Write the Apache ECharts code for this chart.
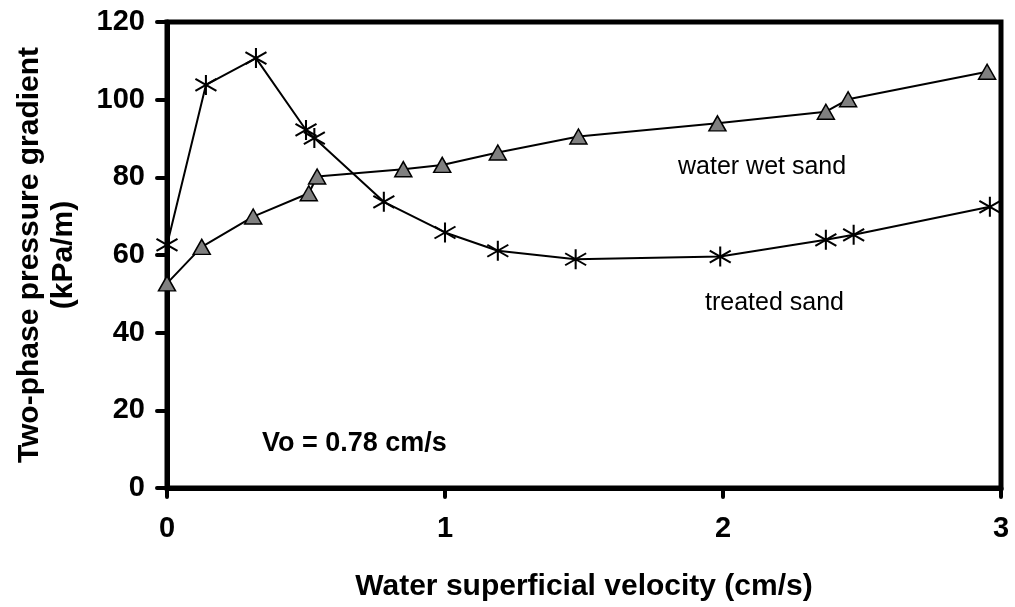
<!DOCTYPE html>
<html>
<head>
<meta charset="utf-8">
<script src="https://cdn.jsdelivr.net/npm/echarts@6/dist/echarts.min.js"></script>
<style>html,body{margin:0;padding:0;background:#fff}#c{width:1015px;height:607px}</style>
</head>
<body>
<div id="c"></div>
<script>
const treatedX = [0, 0.14, 0.32, 0.50, 0.53, 0.78, 1.00, 1.19, 1.47, 1.99, 2.37, 2.47, 2.96];
const treatedY = [62.6, 103.8, 110.7, 92.2, 90.1, 73.7, 65.8, 61.1, 58.9, 59.6, 63.9, 65.2, 72.4];
const wetX = [0, 0.125, 0.31, 0.51, 0.54, 0.85, 0.99, 1.19, 1.48, 1.98, 2.37, 2.45, 2.95];
const wetY = [52.7, 62.1, 69.9, 75.9, 80.2, 82.1, 83.2, 86.4, 90.5, 93.9, 96.9, 100.1, 107.2];
const xTicks = [0, 1, 2, 3];
const yTicks = [0, 20, 40, 60, 80, 100, 120];

const FF = '"Liberation Sans", Arial, sans-serif';
const chart = echarts.init(document.getElementById('c'), null, {renderer: 'canvas'});
chart.setOption({
  animation: false,
  backgroundColor: '#fff',
  grid: {left: 167, right: 14, top: 22, bottom: 119, show: true, borderColor: '#000', borderWidth: 5, backgroundColor: 'transparent'},
  xAxis: {
    type: 'value', min: xTicks[0], max: xTicks[xTicks.length - 1], interval: 1,
    name: 'Water superficial velocity (cm/s)', nameLocation: 'middle', nameGap: 84,
    nameTextStyle: {fontFamily: FF, fontWeight: 'bold', fontSize: 30, color: '#000'},
    axisLine: {lineStyle: {color: '#000', width: 5}},
    axisTick: {show: true, inside: false, length: 9, lineStyle: {color: '#000', width: 4, cap: 'round'}},
    axisLabel: {fontFamily: FF, fontWeight: 'bold', fontSize: 29, color: '#000', margin: 26},
    splitLine: {show: false}
  },
  yAxis: {
    type: 'value', min: yTicks[0], max: yTicks[yTicks.length - 1], interval: 20,
    name: 'Two-phase pressure gradient\n(kPa/m)', nameLocation: 'middle', nameGap: 86, nameRotate: 90,
    nameTextStyle: {fontFamily: FF, fontWeight: 'bold', fontSize: 30, color: '#000', lineHeight: 34},
    axisLine: {lineStyle: {color: '#000', width: 5}},
    axisTick: {show: true, inside: false, length: 10, lineStyle: {color: '#000', width: 4, cap: 'round'}},
    axisLabel: {fontFamily: FF, fontWeight: 'bold', fontSize: 29, color: '#000', margin: 22},
    splitLine: {show: false}
  },
  series: [
    {
      name: 'water wet sand', type: 'line',
      data: wetX.map((x, i) => [x, wetY[i]]),
      symbol: 'triangle', symbolSize: [17, 15],
      lineStyle: {color: '#000', width: 2},
      itemStyle: {color: '#808080', borderColor: '#000', borderWidth: 1.5},
      z: 3
    },
    {
      name: 'treated sand', type: 'line',
      data: treatedX.map((x, i) => [x, treatedY[i]]),
      symbol: 'path://M10,0L10,20M0,4L20,16M0,16L20,4', symbolSize: [21, 20],
      lineStyle: {color: '#000', width: 2},
      itemStyle: {color: 'rgba(0,0,0,0)', borderColor: '#000', borderWidth: 2},
      z: 4
    }
  ],
  graphic: [
    {type: 'text', left: 678, top: 155, style: {text: 'water wet sand', font: '25px ' + FF, fill: '#000'}, z: 10},
    {type: 'text', left: 705, top: 291, style: {text: 'treated sand', font: '25px ' + FF, fill: '#000'}, z: 10},
    {type: 'text', left: 262, top: 430, style: {text: 'Vo = 0.78 cm/s', font: 'bold 27px ' + FF, fill: '#000'}, z: 10}
  ]
});
</script>
</body>
</html>
